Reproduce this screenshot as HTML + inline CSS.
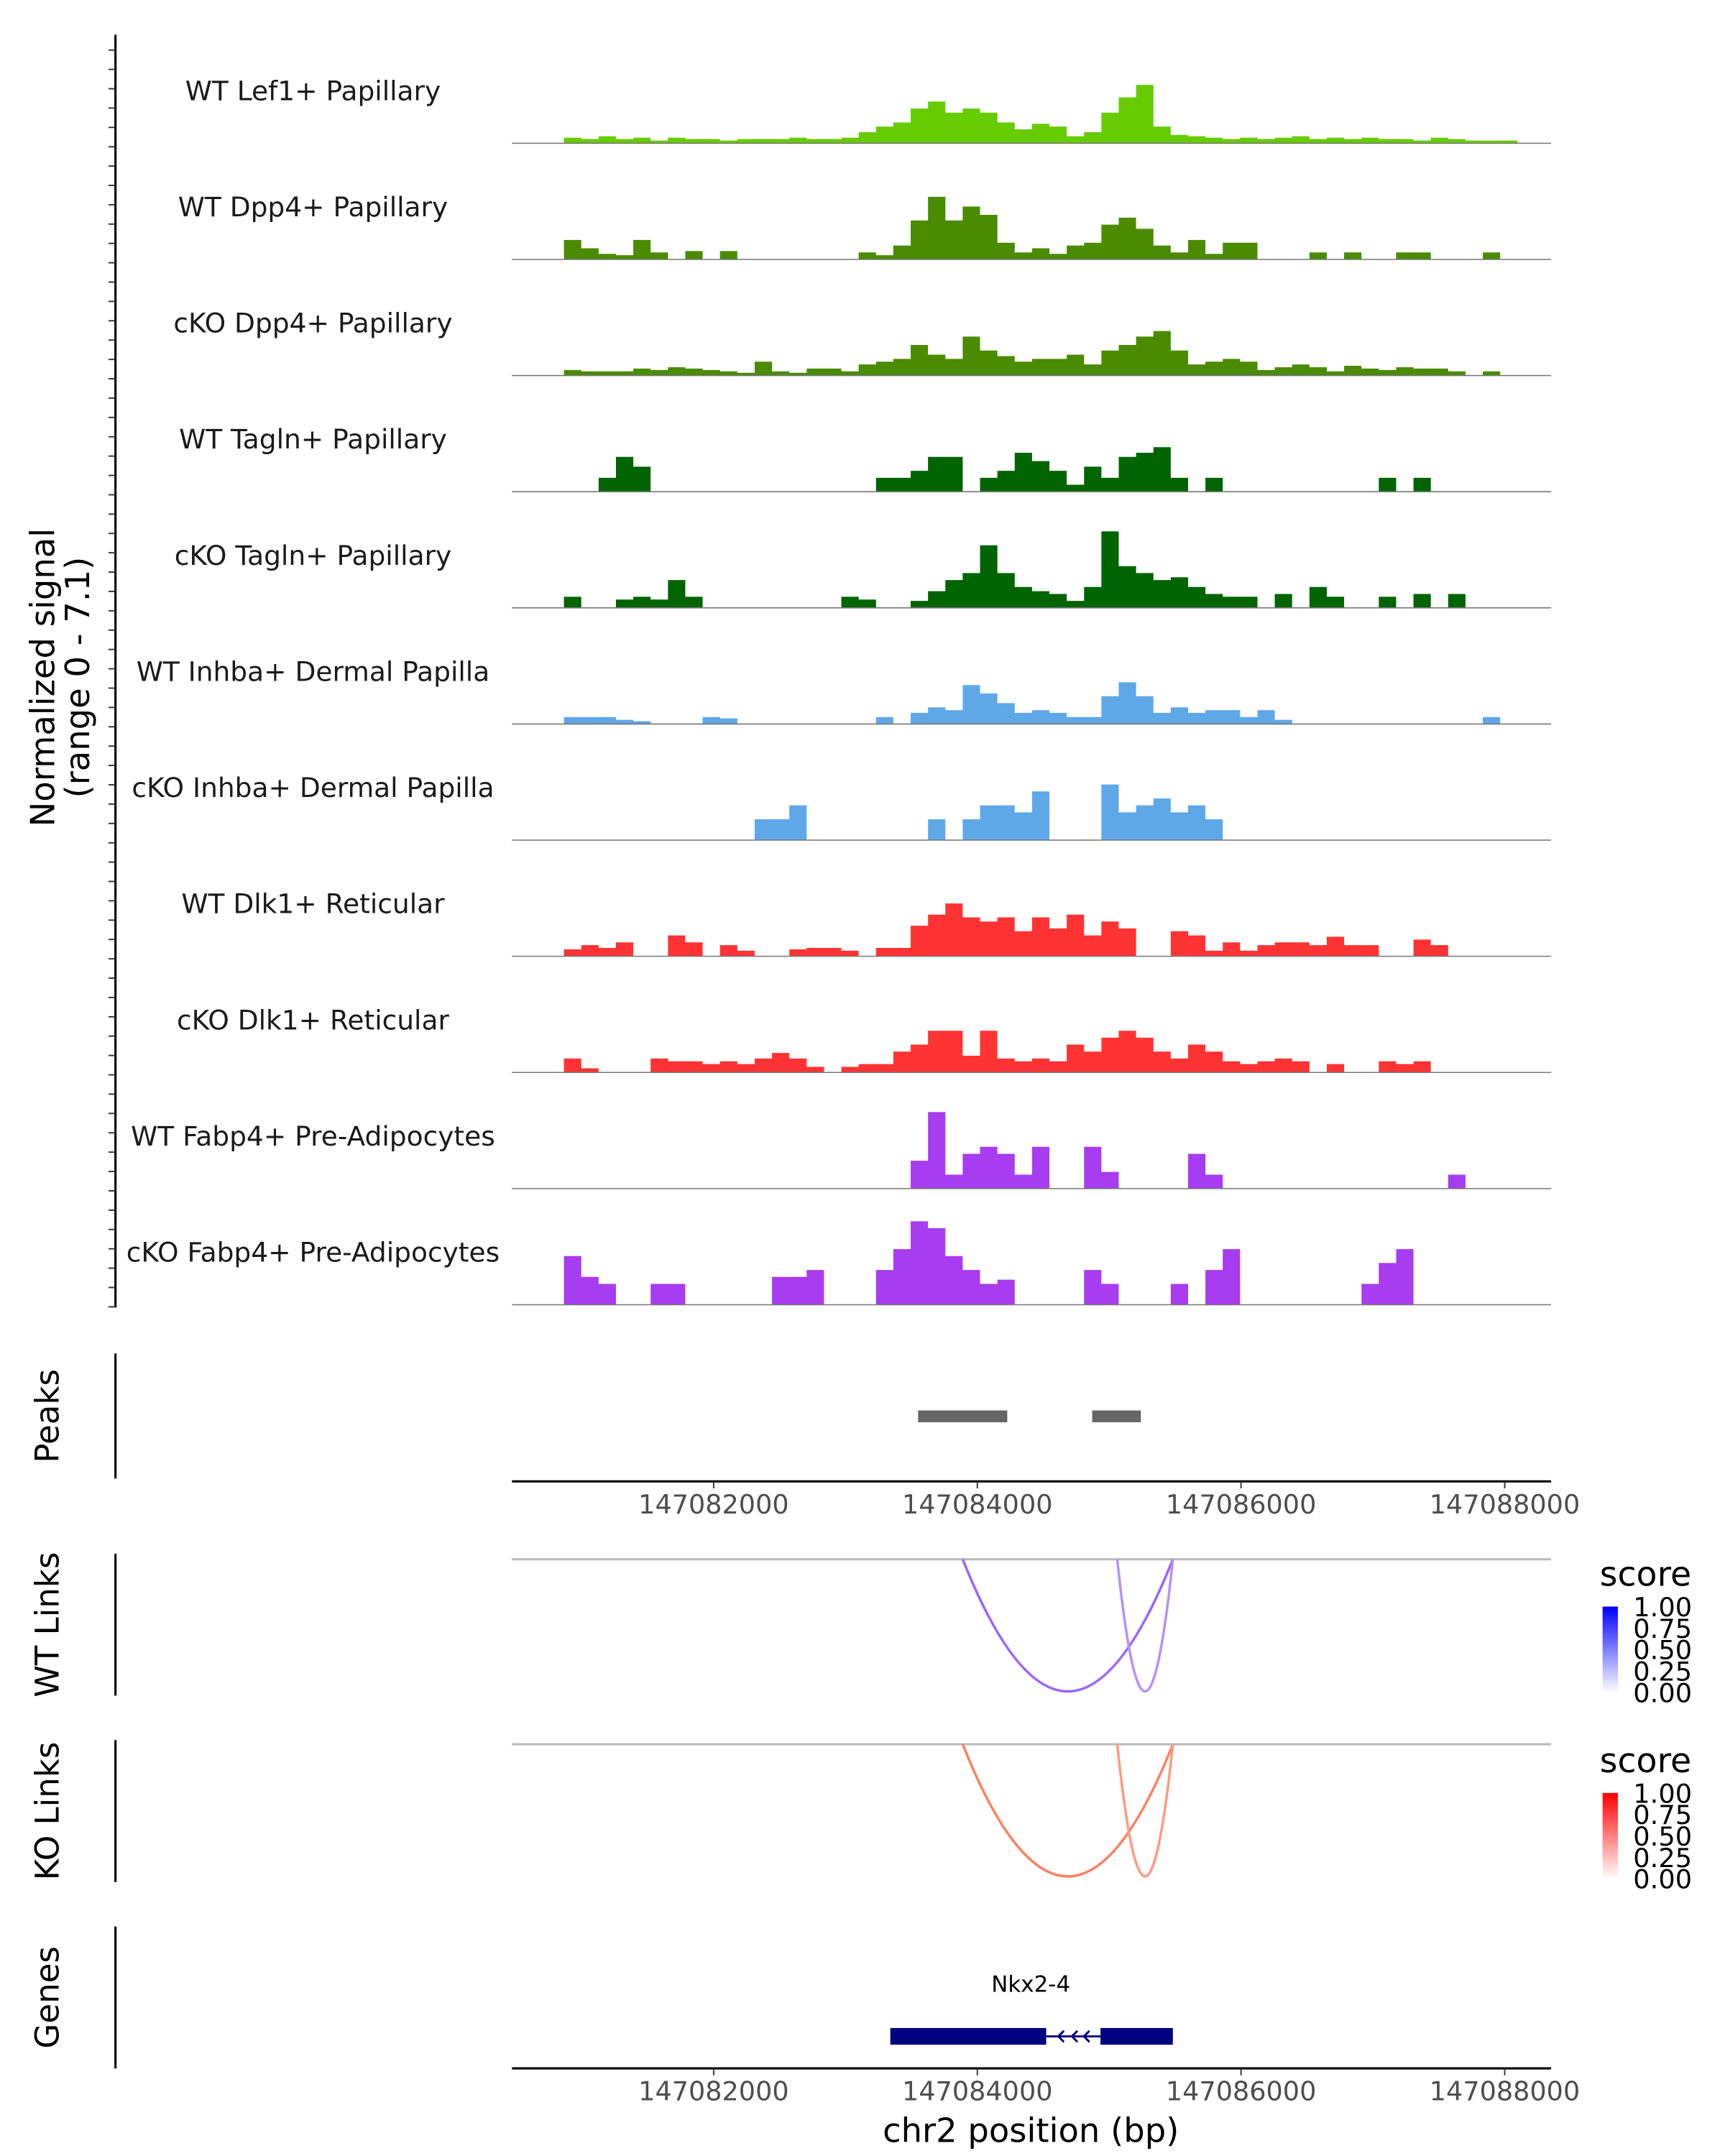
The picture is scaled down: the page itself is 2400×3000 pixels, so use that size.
<!DOCTYPE html>
<html><head><meta charset="utf-8"><style>
html,body{margin:0;padding:0;background:#fff}
svg{display:block;font-family:"DejaVu Sans","Liberation Sans",sans-serif}
</style></head><body>
<svg id="chart" width="2400" height="3000" viewBox="0 0 1240 1550" preserveAspectRatio="none" xmlns="http://www.w3.org/2000/svg">
<defs>
<linearGradient id="gBlue" x1="0" y1="1" x2="0" y2="0"><stop offset="0" stop-color="#ffffff"/><stop offset="1" stop-color="#0000ff"/></linearGradient>
<linearGradient id="gRed" x1="0" y1="1" x2="0" y2="0"><stop offset="0" stop-color="#ffffff"/><stop offset="1" stop-color="#ff0000"/></linearGradient>
</defs>
<g id="tracks"></g>
<g id="static"></g>
</svg>
<script>
// ---- data ----
const binStart = 147080470;
const binSize = 131.5;
const trackLabels = ["WT Lef1+ Papillary","WT Dpp4+ Papillary","cKO Dpp4+ Papillary","WT Tagln+ Papillary","cKO Tagln+ Papillary","WT Inhba+ Dermal Papilla","cKO Inhba+ Dermal Papilla","WT Dlk1+ Reticular","cKO Dlk1+ Reticular","WT Fabp4+ Pre-Adipocytes","cKO Fabp4+ Pre-Adipocytes"];
const trackColors = ["#66cc00","#4a8b00","#4a8b00","#006400","#006400","#5fa8e8","#5fa8e8","#ff3333","#ff3333","#a83cf0","#a83cf0"];
const sigLef1WT = [0,0,0,4,3,5,3,4,2,4,3,3,2,3,3,3,4,3,3,4,8,12,15,25,30,22,25,22,15,10,14,12,5,8,22,33,42,12,6,5,4,3,4,3,4,5,3,4,3,4,3,3,2,4,3,2,2,2,0,0];
const sigDpp4WT = [0,0,0,14,8,4,3,14,5,0,6,0,6,0,0,0,0,0,0,0,5,3,10,28,45,28,38,32,12,5,8,4,10,12,25,30,22,10,5,14,4,12,12,0,0,0,5,0,5,0,0,5,5,0,0,0,5,0,0,0];
const sigDpp4KO = [0,0,0,4,3,3,3,5,4,6,5,4,3,2,10,3,2,5,5,3,8,10,12,22,15,12,28,18,14,10,12,12,15,8,18,22,28,32,18,8,10,12,10,4,6,8,6,3,7,5,4,6,5,5,3,0,3,0,0,0];
const sigTaglnWT = [0,0,0,0,0,10,25,18,0,0,0,0,0,0,0,0,0,0,0,0,0,10,10,15,25,25,0,10,15,28,22,15,5,18,10,25,28,32,10,0,10,0,0,0,0,0,0,0,0,0,10,0,10,0,0,0,0,0,0,0];
const sigTaglnKO = [0,0,0,8,0,0,6,8,6,20,8,0,0,0,0,0,0,0,0,8,6,0,0,5,12,20,25,45,25,15,12,10,5,15,55,30,25,20,22,15,10,8,8,0,10,0,15,8,0,0,8,0,10,0,10,0,0,0,0,0];
const sigInhbaWT = [0,0,0,5,5,5,3,2,0,0,0,5,4,0,0,0,0,0,0,0,0,5,0,8,12,10,28,22,15,8,10,8,5,5,20,30,20,8,12,8,10,10,5,10,3,0,0,0,0,0,0,0,0,0,0,0,5,0,0,0];
const sigInhbaKO = [0,0,0,0,0,0,0,0,0,0,0,0,0,0,15,15,25,0,0,0,0,0,0,0,15,0,15,25,25,20,35,0,0,0,40,20,25,30,20,25,15,0,0,0,0,0,0,0,0,0,0,0,0,0,0,0,0,0,0,0];
const sigDlk1WT = [0,0,0,5,8,6,10,0,0,15,10,0,8,4,0,0,5,6,6,4,0,6,6,22,30,38,28,25,28,18,28,20,30,15,25,20,0,0,18,15,4,10,4,8,10,10,8,14,8,8,0,0,12,8,0,0,0,0,0,0];
const sigDlk1KO = [0,0,0,10,3,0,0,0,10,8,8,6,8,6,10,14,10,4,0,4,6,6,15,20,30,30,12,30,10,8,10,8,20,15,25,30,25,15,10,20,15,8,6,8,10,8,0,6,0,0,8,6,8,0,0,0,0,0,0,0];
const sigFabp4WT = [0,0,0,0,0,0,0,0,0,0,0,0,0,0,0,0,0,0,0,0,0,0,0,20,55,10,25,30,25,10,30,0,0,30,12,0,0,0,0,25,10,0,0,0,0,0,0,0,0,0,0,0,0,0,10,0,0,0,0,0];
const sigFabp4KO = [0,0,0,35,20,15,0,0,15,15,0,0,0,0,0,20,20,25,0,0,0,25,40,60,55,35,25,15,18,0,0,0,0,25,15,0,0,0,15,0,25,40,0,0,0,0,0,0,0,15,30,40,0,0,0,0,0,0,0,0];
const peakStarts = [147083551,147084871];
const peakEnds = [147084227,147085240];
const linkStarts = [147083889,147085061];
const linkEnds = [147085483,147085483];
const linkScoresWT = [0.6,0.45];
const linkScoresKO = [0.55,0.45];
const geneExonStarts = [147083340,147084934];
const geneExonEnds = [147084522,147085483];
const xTicks = [147082000,147084000,147086000,147088000];
const legendTicks = ["1.00","0.75","0.50","0.25","0.00"];
const signals = [sigLef1WT,sigDpp4WT,sigDpp4KO,sigTaglnWT,sigTaglnKO,sigInhbaWT,sigInhbaKO,sigDlk1WT,sigDlk1KO,sigFabp4WT,sigFabp4KO];

// ---- scales ----
const X0 = 368, X1 = 1115;
const xs = p => 513 + (p - 147082000) * 0.094775;
const yMax = 80, trackH = 80;
const NS = "http://www.w3.org/2000/svg";
function mk(tag, attrs, parent, text){
  const e = document.createElementNS(NS, tag);
  for (const k in attrs) e.setAttribute(k, attrs[k]);
  if (text !== undefined) e.textContent = text;
  parent.appendChild(e);
  return e;
}
const T = document.getElementById('tracks');
const S = document.getElementById('static');

// ---- coverage tracks ----
signals.forEach((sig, t) => {
  const base = 103 + t * 83.5;
  const g = mk('g', {}, T);
  
  
  const lbl = mk('text', {x: 225, y: base - 31, 'text-anchor': 'middle', 'font-size': 19.4, fill: '#1a1a1a'}, g, trackLabels[t]);
  
  
  let d = 'M' + X0 + ',' + base;
  sig.forEach((v, i) => {
    const xa = xs(binStart + i * binSize), xb = xs(binStart + (i + 1) * binSize);
    const y = base - v / yMax * trackH;
    d += ' L' + xa.toFixed(2) + ',' + y.toFixed(2) + ' L' + xb.toFixed(2) + ',' + y.toFixed(2);
  });
  d += ' L' + X1 + ',' + base + ' Z';
  const area = mk('path', {d: d, fill: trackColors[t]}, g);
  
  
  const bl = mk('line', {x1: X0, x2: X1, y1: base, y2: base, stroke: '#777', 'stroke-width': 0.8}, g);
  
  
});

// signal axis
const sa = mk('line', {x1: 83, x2: 83, y1: 25, y2: 940, stroke: '#000', 'stroke-width': 1.6}, S);


for (let y = 36; y <= 940; y += 13.9) {
  const tk = mk('line', {x1: 78, x2: 83, y1: y, y2: y, stroke: '#333', 'stroke-width': 1}, S);
  
  
}
const yt = mk('text', {transform: 'translate(43,487) rotate(-90)', 'text-anchor': 'middle', 'font-size': 24, fill: '#000'}, S);


mk('tspan', {x: 0, dy: -4}, yt, 'Normalized signal');
mk('tspan', {x: 0, dy: 25}, yt, '(range 0 - 7.1)');

function sideTitle(txt, yc, y1, y2, name){
  const l = mk('line', {x1: 83, x2: 83, y1: y1, y2: y2, stroke: '#000', 'stroke-width': 1.6}, S);
  
  
  const t = mk('text', {transform: 'translate(42,' + yc + ') rotate(-90)', 'text-anchor': 'middle', 'font-size': 23.3, fill: '#000'}, S, txt);
  
  
}
sideTitle('Peaks', 1018, 973, 1063, 'peaks');
sideTitle('WT Links', 1168, 1117, 1219, 'wt-links');
sideTitle('KO Links', 1302, 1251, 1353, 'ko-links');
sideTitle('Genes', 1436, 1385, 1487, 'genes');

// peaks
peakStarts.forEach((s, i) => {
  const r = mk('rect', {x: xs(s), y: 1014, width: xs(peakEnds[i]) - xs(s), height: 8.5, fill: '#666'}, S);
  
  
});

function xAxis(y, name){
  const l = mk('line', {x1: X0, x2: X1, y1: y, y2: y, stroke: '#000', 'stroke-width': 1.6}, S);
  
  
  xTicks.forEach(p => {
    const tk = mk('line', {x1: xs(p), x2: xs(p), y1: y, y2: y + 5, stroke: '#333', 'stroke-width': 1}, S);
    
    
    const tl = mk('text', {x: xs(p), y: y + 23, 'text-anchor': 'middle', 'font-size': 18.9, fill: '#4d4d4d'}, S, String(p));
    
    
  });
}
xAxis(1065, 'peaks-x-axis');
xAxis(1487, 'genes-x-axis');
const xt = mk('text', {x: 741, y: 1540, 'text-anchor': 'middle', 'font-size': 24, fill: '#000'}, S, 'chr2 position (bp)');



// links
function links(top, scores, cols, gradId, legendY, name){
  const tl = mk('line', {x1: X0, x2: X1, y1: top, y2: top, stroke: '#bbb', 'stroke-width': 1.6}, S);
  
  
  linkStarts.forEach((s, i) => {
    const a = xs(s), b = xs(linkEnds[i]);
    const depth = 95;
    const p = mk('path', {d: 'M' + a + ',' + top + ' Q' + ((a + b) / 2) + ',' + (top + 2 * depth) + ' ' + b + ',' + top, fill: 'none', stroke: cols[i], 'stroke-width': 1.8}, S);
    
    
  });
  const lt = mk('text', {x: 1150, y: legendY, 'font-size': 24.5, fill: '#000'}, S, 'score');
  
  
  const cb = mk('rect', {x: 1152, y: legendY + 15, width: 11, height: 62, fill: 'url(#' + gradId + ')'}, S);
  
  
  legendTicks.forEach((t, i) => {
    const tx = mk('text', {x: 1174, y: legendY + 22 + i * 15.4, 'font-size': 19, fill: '#000'}, S, t);
    
    
  });
}
links(1121, linkScoresWT, ['#9a66ff', '#b590ff'], 'gBlue', 1140, 'wt-links');
links(1254, linkScoresKO, ['#ff7f5e', '#ff9a80'], 'gRed', 1274, 'ko-links');

// gene
const gl = mk('text', {x: 741, y: 1432, 'text-anchor': 'middle', 'font-size': 16, fill: '#000'}, S, 'Nkx2-4');


const intron = mk('line', {x1: xs(geneExonEnds[0]), x2: xs(geneExonStarts[1]), y1: 1464, y2: 1464, stroke: '#000080', 'stroke-width': 1.5}, S);


[0.25, 0.5, 0.72].forEach(f => {
  const cx = xs(geneExonEnds[0]) + f * (xs(geneExonStarts[1]) - xs(geneExonEnds[0]));
  const ar = mk('path', {d: 'M' + (cx + 3) + ',1460 L' + (cx - 1) + ',1464 L' + (cx + 3) + ',1468', fill: 'none', stroke: '#000080', 'stroke-width': 1.5}, S);
  
  
});
geneExonStarts.forEach((s, i) => {
  const r = mk('rect', {x: xs(s), y: 1458, width: xs(geneExonEnds[i]) - xs(s), height: 12, fill: '#000080'}, S);
  
  
});
</script>
</body></html>
